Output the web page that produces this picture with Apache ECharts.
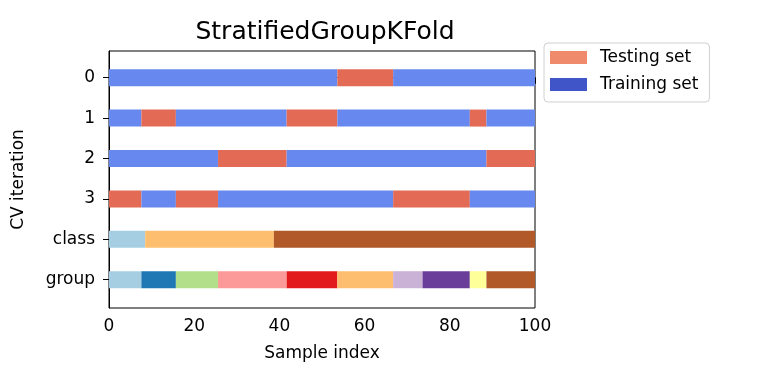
<!DOCTYPE html>
<html>
<head>
<meta charset="utf-8">
<script src="https://cdn.jsdelivr.net/npm/echarts@6/dist/echarts.min.js"></script>
<style>html,body{margin:0;padding:0;background:#fff;}#c{width:763px;height:382px;}</style>
</head>
<body>
<div id="c"></div>
<script>
// ---- data ----
const rowLabels = ['0', '1', '2', '3', 'class', 'group'];
const xTicks = [0, 20, 40, 60, 80, 100];

// CV folds: segment edges (sample index) and which set each segment belongs to
const fold0Edges = [0, 53.6, 66.7, 100];
const fold0Sets  = ['train', 'test', 'train'];
const fold1Edges = [0, 7.6, 15.7, 41.7, 53.6, 84.7, 88.6, 100];
const fold1Sets  = ['train', 'test', 'train', 'test', 'train', 'test', 'train'];
const fold2Edges = [0, 25.6, 41.7, 88.6, 100];
const fold2Sets  = ['train', 'test', 'train', 'test'];
const fold3Edges = [0, 7.6, 15.7, 25.6, 66.7, 84.7, 100];
const fold3Sets  = ['test', 'train', 'test', 'train', 'test', 'train'];

// class row
const classEdges = [0, 8.5, 38.7, 100];
const classIds   = [0, 1, 2];
// group row
const groupEdges = [0, 7.6, 15.7, 25.6, 41.7, 53.6, 66.7, 73.6, 84.7, 88.6, 100];
const groupIds   = [0, 1, 2, 3, 4, 5, 6, 7, 8, 9];

// ---- styles ----
const setColors = { train: '#6788ee', test: '#e36b55' };
const legendColors = { test: '#f08a6c', train: '#4055c8' };
const classColors = ['#a6cee3', '#fdbf6f', '#b15928'];
const groupColors = ['#a6cee3', '#1f78b4', '#b2df8a', '#fb9a99', '#e31a1c',
                     '#fdbf6f', '#cab2d6', '#6a3d9a', '#ffff99', '#b15928'];
const BAR_PX = 17;
const FONT = 'DejaVu Sans';

// ---- build segments ----
const segData = [];
const segColor = [];
function addRow(row, edges, keys, colorFn) {
  for (let i = 0; i < keys.length; i++) {
    segData.push([edges[i], edges[i + 1], row]);
    segColor.push(colorFn(keys[i]));
  }
}
addRow(0, fold0Edges, fold0Sets, k => setColors[k]);
addRow(1, fold1Edges, fold1Sets, k => setColors[k]);
addRow(2, fold2Edges, fold2Sets, k => setColors[k]);
addRow(3, fold3Edges, fold3Sets, k => setColors[k]);
addRow(4, classEdges, classIds, k => classColors[k]);
addRow(5, groupEdges, groupIds, k => groupColors[k]);

const chart = echarts.init(document.getElementById('c'), null, { renderer: 'canvas' });

const option = {
  animation: false,
  backgroundColor: '#fff',
  textStyle: { fontFamily: FONT },
  title: {
    text: 'StratifiedGroupKFold',
    left: 320, top: 15, textAlign: 'center',
    textStyle: { fontFamily: FONT, fontSize: 25, fontWeight: 'normal', color: '#000' }
  },
  legend: {
    orient: 'vertical',
    left: 544, top: 43,
    data: ['Testing set', 'Training set'],
    icon: 'rect',
    itemWidth: 37, itemHeight: 13, itemGap: 10,
    padding: [6, 11, 9, 6],
    borderColor: '#d0d0d0', borderWidth: 1, borderRadius: 4,
    selectedMode: false,
    textStyle: { fontFamily: FONT, fontSize: 17, color: '#000', lineHeight: 17, padding: [0, 0, 0, 8] }
  },
  grid: {
    left: 109, right: 228, top: 51, bottom: 74,
    show: true, borderColor: '#000', borderWidth: 1, backgroundColor: 'transparent'
  },
  xAxis: {
    type: 'value', min: 0, max: 100, interval: 20,
    name: 'Sample index', nameLocation: 'middle', nameGap: 37,
    nameTextStyle: { fontFamily: FONT, fontSize: 17, color: '#000' },
    axisLine: { show: true, lineStyle: { color: '#000', width: 1 } },
    axisTick: { show: true, length: 6, lineStyle: { color: '#000' } },
    axisLabel: { fontFamily: FONT, fontSize: 17, color: '#000', margin: 10,
                 customValues: xTicks },
    splitLine: { show: false }
  },
  yAxis: {
    type: 'value', inverse: true, min: -0.66, max: 5.7,
    name: 'CV iteration', nameLocation: 'middle', nameGap: 82, nameRotate: 90,
    nameTextStyle: { fontFamily: FONT, fontSize: 17, color: '#000' },
    axisLine: { show: true, lineStyle: { color: '#000', width: 1 } },
    axisTick: { show: true, length: 6, lineStyle: { color: '#000' },
                customValues: rowLabels.map((_, i) => i) },
    axisLabel: { fontFamily: FONT, fontSize: 17, color: '#000', margin: 14,
                 customValues: rowLabels.map((_, i) => i),
                 formatter: v => rowLabels[Math.round(v)] },
    splitLine: { show: false }
  },
  series: [
    {
      type: 'custom',
      name: 'segments',
      data: segData,
      encode: { x: [0, 1], y: 2 },
      clip: true,
      renderItem: function (params, api) {
        const p0 = api.coord([api.value(0), api.value(2)]);
        const p1 = api.coord([api.value(1), api.value(2)]);
        const cs = params.coordSys;
        const shape = echarts.graphic.clipRectByRect(
          { x: p0[0], y: p0[1] - BAR_PX / 2, width: p1[0] - p0[0], height: BAR_PX },
          { x: cs.x, y: cs.y, width: cs.width, height: cs.height }
        );
        return shape && { type: 'rect', shape: shape, style: { fill: segColor[params.dataIndex] } };
      }
    },
    { type: 'custom', name: 'Testing set', data: [], itemStyle: { color: legendColors.test },
      renderItem: () => null },
    { type: 'custom', name: 'Training set', data: [], itemStyle: { color: legendColors.train },
      renderItem: () => null }
  ]
};
chart.setOption(option);
</script>
</body>
</html>
